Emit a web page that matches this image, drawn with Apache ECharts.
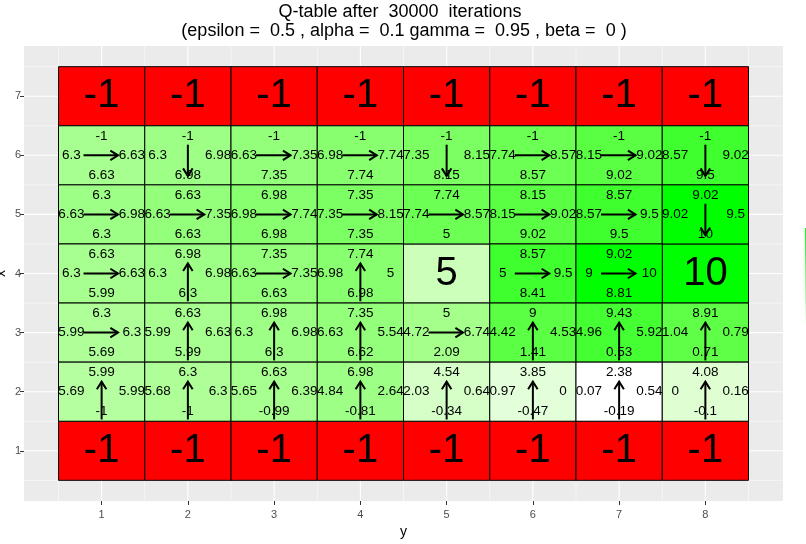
<!DOCTYPE html>
<html>
<head>
<meta charset="utf-8">
<script src="https://cdn.jsdelivr.net/npm/echarts@6/dist/echarts.min.js"></script>
<style>
html,body{margin:0;padding:0;background:#fff;}
#chart{width:806px;height:544px;}
</style>
</head>
<body>
<div id="chart"></div>
<script>
// ---------- DATA ----------
const colCats = [1, 2, 3, 4, 5, 6, 7, 8];          // x axis "y"
const rowCats = [1, 2, 3, 4, 5, 6, 7];             // y axis "x"
const titleLine1 = 'Q-table after  30000  iterations';
const titleLine2 = '(epsilon =  0.5 , alpha =  0.1 gamma =  0.95 , beta =  0 )';

// rows listed top (row 6) to bottom (row 2)
const qRows = [6, 5, 4, 3, 2];
const qUp = [
  [-1, -1, -1, -1, -1, -1, -1, -1],
  [6.3, 6.63, 6.98, 7.35, 7.74, 8.15, 8.57, 9.02],
  [6.63, 6.98, 7.35, 7.74, null, 8.57, 9.02, null],
  [6.3, 6.63, 6.98, 7.35, 5, 9, 9.43, 8.91],
  [5.99, 6.3, 6.63, 6.98, 4.54, 3.85, 2.38, 4.08]
];
const qLeft = [
  [6.3, 6.3, 6.63, 6.98, 7.35, 7.74, 8.15, 8.57],
  [6.63, 6.63, 6.98, 7.35, 7.74, 8.15, 8.57, 9.02],
  [6.3, 6.3, 6.63, 6.98, null, 5, 9, null],
  [5.99, 5.99, 6.3, 6.63, 4.72, 4.42, 4.96, 1.04],
  [5.69, 5.68, 5.65, 4.84, 2.03, 0.97, 0.07, 0]
];
const qRight = [
  [6.63, 6.98, 7.35, 7.74, 8.15, 8.57, 9.02, 9.02],
  [6.98, 7.35, 7.74, 8.15, 8.57, 9.02, 9.5, 9.5],
  [6.63, 6.98, 7.35, 5, null, 9.5, 10, null],
  [6.3, 6.63, 6.98, 5.54, 6.74, 4.53, 5.92, 0.79],
  [5.99, 6.3, 6.39, 2.64, 0.64, 0, 0.54, 0.16]
];
const qDown = [
  [6.63, 6.98, 7.35, 7.74, 8.15, 8.57, 9.02, 9.5],
  [6.3, 6.63, 6.98, 7.35, 5, 9.02, 9.5, 10],
  [5.99, 6.3, 6.63, 6.98, null, 8.41, 8.81, null],
  [5.69, 5.99, 6.3, 6.62, 2.09, 1.41, 0.53, 0.71],
  [-1, -1, -0.99, -0.81, -0.34, -0.47, -0.19, -0.1]
];
const bestMove = [
  ['right', 'down', 'right', 'right', 'down', 'right', 'right', 'down'],
  ['right', 'right', 'right', 'right', 'right', 'right', 'right', 'down'],
  ['right', 'up', 'right', 'up', null, 'right', 'right', null],
  ['right', 'up', 'up', 'up', 'right', 'up', 'up', 'up'],
  ['up', 'up', 'up', 'up', 'up', 'up', 'up', 'up']
];
// terminal cells: [col, row, reward]
const terminals = [
  [1, 7, -1], [2, 7, -1], [3, 7, -1], [4, 7, -1], [5, 7, -1], [6, 7, -1], [7, 7, -1], [8, 7, -1],
  [1, 1, -1], [2, 1, -1], [3, 1, -1], [4, 1, -1], [5, 1, -1], [6, 1, -1], [7, 1, -1], [8, 1, -1],
  [5, 4, 5], [8, 4, 10]
];
const fillLimits = [2.38, 10];

// ---------- colour helpers (Lab interpolation like ggplot) ----------
function toLin(c){c/=255;return c<=0.04045?c/12.92:Math.pow((c+0.055)/1.055,2.4);}
function fromLin(c){c=c<=0.0031308?12.92*c:1.055*Math.pow(c,1/2.4)-0.055;return Math.max(0,Math.min(255,Math.round(c*255)));}
function rgb2lab(r,g,b){
  r=toLin(r);g=toLin(g);b=toLin(b);
  let X=(0.4124*r+0.3576*g+0.1805*b)/0.95047,Y=(0.2126*r+0.7152*g+0.0722*b),Z=(0.0193*r+0.1192*g+0.9505*b)/1.08883;
  const f=t=>t>0.008856?Math.cbrt(t):7.787*t+16/116;
  const fx=f(X),fy=f(Y),fz=f(Z);
  return [116*fy-16,500*(fx-fy),200*(fy-fz)];
}
function lab2rgb(L,a,b){
  const fy=(L+16)/116,fx=fy+a/500,fz=fy-b/200;
  const fi=t=>t*t*t>0.008856?t*t*t:(t-16/116)/7.787;
  const X=fi(fx)*0.95047,Y=fi(fy),Z=fi(fz)*1.08883;
  const r=3.2406*X-1.5372*Y-0.4986*Z,g=-0.9689*X+1.8758*Y+0.0415*Z,bb=0.0557*X-0.2040*Y+1.0570*Z;
  return 'rgb('+fromLin(r)+','+fromLin(g)+','+fromLin(bb)+')';
}
const labLow=rgb2lab(255,255,255), labHigh=rgb2lab(0,255,0);
function fillFor(v){
  if(v<0) return '#FF0000';
  let t=(v-fillLimits[0])/(fillLimits[1]-fillLimits[0]);
  t=Math.max(0,Math.min(1,t));
  return lab2rgb(labLow[0]+(labHigh[0]-labLow[0])*t,labLow[1]+(labHigh[1]-labLow[1])*t,labLow[2]+(labHigh[2]-labLow[2])*t);
}

// ---------- build cell list ----------
const cells = []; // {col,row,value,terminal,up,left,right,down,move}
terminals.forEach(t=>cells.push({col:t[0],row:t[1],value:t[2],terminal:true}));
qRows.forEach((r,ri)=>{
  colCats.forEach((c,ci)=>{
    if(qUp[ri][ci]===null) return;
    const vals=[qUp[ri][ci],qLeft[ri][ci],qRight[ri][ci],qDown[ri][ci]];
    cells.push({col:c,row:r,value:Math.max.apply(null,vals),terminal:false,
      up:qUp[ri][ci],left:qLeft[ri][ci],right:qRight[ri][ci],down:qDown[ri][ci],move:bestMove[ri][ci]});
  });
});
const cellData = cells.map((c,i)=>[c.col,c.row,i]);

// grid lines: [orientation(0=vertical,1=horizontal), position, major]
const gridLines=[];
for(let v=0.5;v<=8.5;v+=0.5) gridLines.push([0,v,Number.isInteger(v)?1:0]);
for(let v=0.5;v<=7.5;v+=0.5) gridLines.push([1,v,Number.isInteger(v)?1:0]);

const XMIN=0.1,XMAX=8.9,YMIN=0.15,YMAX=7.85;
const FONT='"Liberation Sans", Arial, sans-serif';

const chart = echarts.init(document.getElementById('chart'), null, {renderer:'canvas'});
chart.setOption({
  animation:false,
  backgroundColor:'#FFFFFF',
  grid:{left:24,right:23,top:46,bottom:43,show:true,backgroundColor:'#EBEBEB',borderWidth:0,
    containLabel:false,outerBoundsMode:'none'},
  xAxis:{type:'value',min:XMIN,max:XMAX,name:'y',nameLocation:'middle',nameGap:24,nameMoveOverlap:false,
    nameTextStyle:{color:'#000',fontSize:14,fontFamily:FONT},
    axisLine:{show:false},splitLine:{show:false},
    axisTick:{show:true,length:4,lineStyle:{color:'#333',width:1},customValues:colCats},
    axisLabel:{color:'#4D4D4D',fontSize:11,fontFamily:FONT,margin:8,customValues:colCats}},
  yAxis:{type:'value',min:YMIN,max:YMAX,name:'x',nameLocation:'middle',nameGap:16,nameRotate:90,nameMoveOverlap:false,
    nameTextStyle:{color:'#000',fontSize:14,fontFamily:FONT},
    axisLine:{show:false},splitLine:{show:false},
    axisTick:{show:true,length:4,lineStyle:{color:'#333',width:1},customValues:rowCats},
    axisLabel:{color:'#4D4D4D',fontSize:11,fontFamily:FONT,margin:3,customValues:rowCats}},
  graphic:[
    {type:'text',x:400,y:12,style:{text:titleLine1,align:'center',verticalAlign:'middle',fontSize:18,fontFamily:FONT,fill:'#000'}},
    {type:'text',x:404,y:31,style:{text:titleLine2,align:'center',verticalAlign:'middle',fontSize:18,fontFamily:FONT,fill:'#000'}},
    {type:'rect',shape:{x:805,y:228,width:20,height:97},style:{fill:new echarts.graphic.LinearGradient(0,0,0,1,[{offset:0,color:'#00FF00'},{offset:1,color:'#FFFFFF'}])}}
  ],
  series:[
    {type:'custom',silent:true,data:gridLines,z:1,
      renderItem:function(params,api){
        const o=api.value(0),p=api.value(1),major=api.value(2);
        let a,b;
        if(o===0){a=api.coord([p,YMIN]);b=api.coord([p,YMAX]);}
        else{a=api.coord([XMIN,p]);b=api.coord([XMAX,p]);}
        return {type:'line',shape:{x1:a[0],y1:a[1],x2:b[0],y2:b[1]},style:{stroke:'#FFFFFF',lineWidth:major?1.1:0.55}};
      }},
    {type:'custom',silent:true,data:cellData,z:2,
      renderItem:function(params,api){
        const c=cells[api.value(2)];
        const p1=api.coord([c.col-0.5,c.row+0.5]),p2=api.coord([c.col+0.5,c.row-0.5]);
        return {type:'rect',shape:{x:p1[0],y:p1[1],width:p2[0]-p1[0],height:p2[1]-p1[1]},
          style:{fill:fillFor(c.value),stroke:'#000',lineWidth:1}};
      }},
    {type:'custom',silent:true,data:cellData,z:3,
      renderItem:function(params,api){
        const c=cells[api.value(2)];
        const cx=c.col,cy=c.row;
        const children=[];
        const txt=(x,y,s,size)=>{const p=api.coord([x,y]);return {type:'text',x:p[0],y:p[1],
          style:{text:String(s),align:'center',verticalAlign:'middle',fontSize:size,fontFamily:FONT,fill:'#000'}};};
        if(c.terminal){
          children.push(txt(cx,cy,c.value,40));
        }else{
          children.push(txt(cx,cy+0.33,c.up,13.5));
          children.push(txt(cx,cy-0.33,c.down,13.5));
          children.push(txt(cx-0.35,cy,c.left,13.5));
          children.push(txt(cx+0.35,cy,c.right,13.5));
          let tail,tip;
          if(c.move==='right'){tail=api.coord([cx-0.21,cy]);tip=api.coord([cx+0.19,cy]);}
          else if(c.move==='left'){tail=api.coord([cx+0.19,cy]);tip=api.coord([cx-0.21,cy]);}
          else if(c.move==='down'){tail=api.coord([cx,cy+0.18]);tip=api.coord([cx,cy-0.35]);}
          else {tail=api.coord([cx,cy-0.47]);tip=api.coord([cx,cy+0.17]);}
          const dx=tip[0]-tail[0],dy=tip[1]-tail[1],len=Math.sqrt(dx*dx+dy*dy);
          const ux=dx/len,uy=dy/len,L=9,ang=32*Math.PI/180;
          const h1=[tip[0]-L*(ux*Math.cos(ang)-uy*Math.sin(ang)),tip[1]-L*(uy*Math.cos(ang)+ux*Math.sin(ang))];
          const h2=[tip[0]-L*(ux*Math.cos(-ang)-uy*Math.sin(-ang)),tip[1]-L*(uy*Math.cos(-ang)+ux*Math.sin(-ang))];
          children.push({type:'line',shape:{x1:tail[0],y1:tail[1],x2:tip[0],y2:tip[1]},style:{stroke:'#000',lineWidth:2}});
          children.push({type:'polyline',shape:{points:[h1,tip,h2]},style:{stroke:'#000',lineWidth:2,fill:null}});
        }
        return {type:'group',children:children};
      }}
  ]
});
</script>
</body>
</html>
